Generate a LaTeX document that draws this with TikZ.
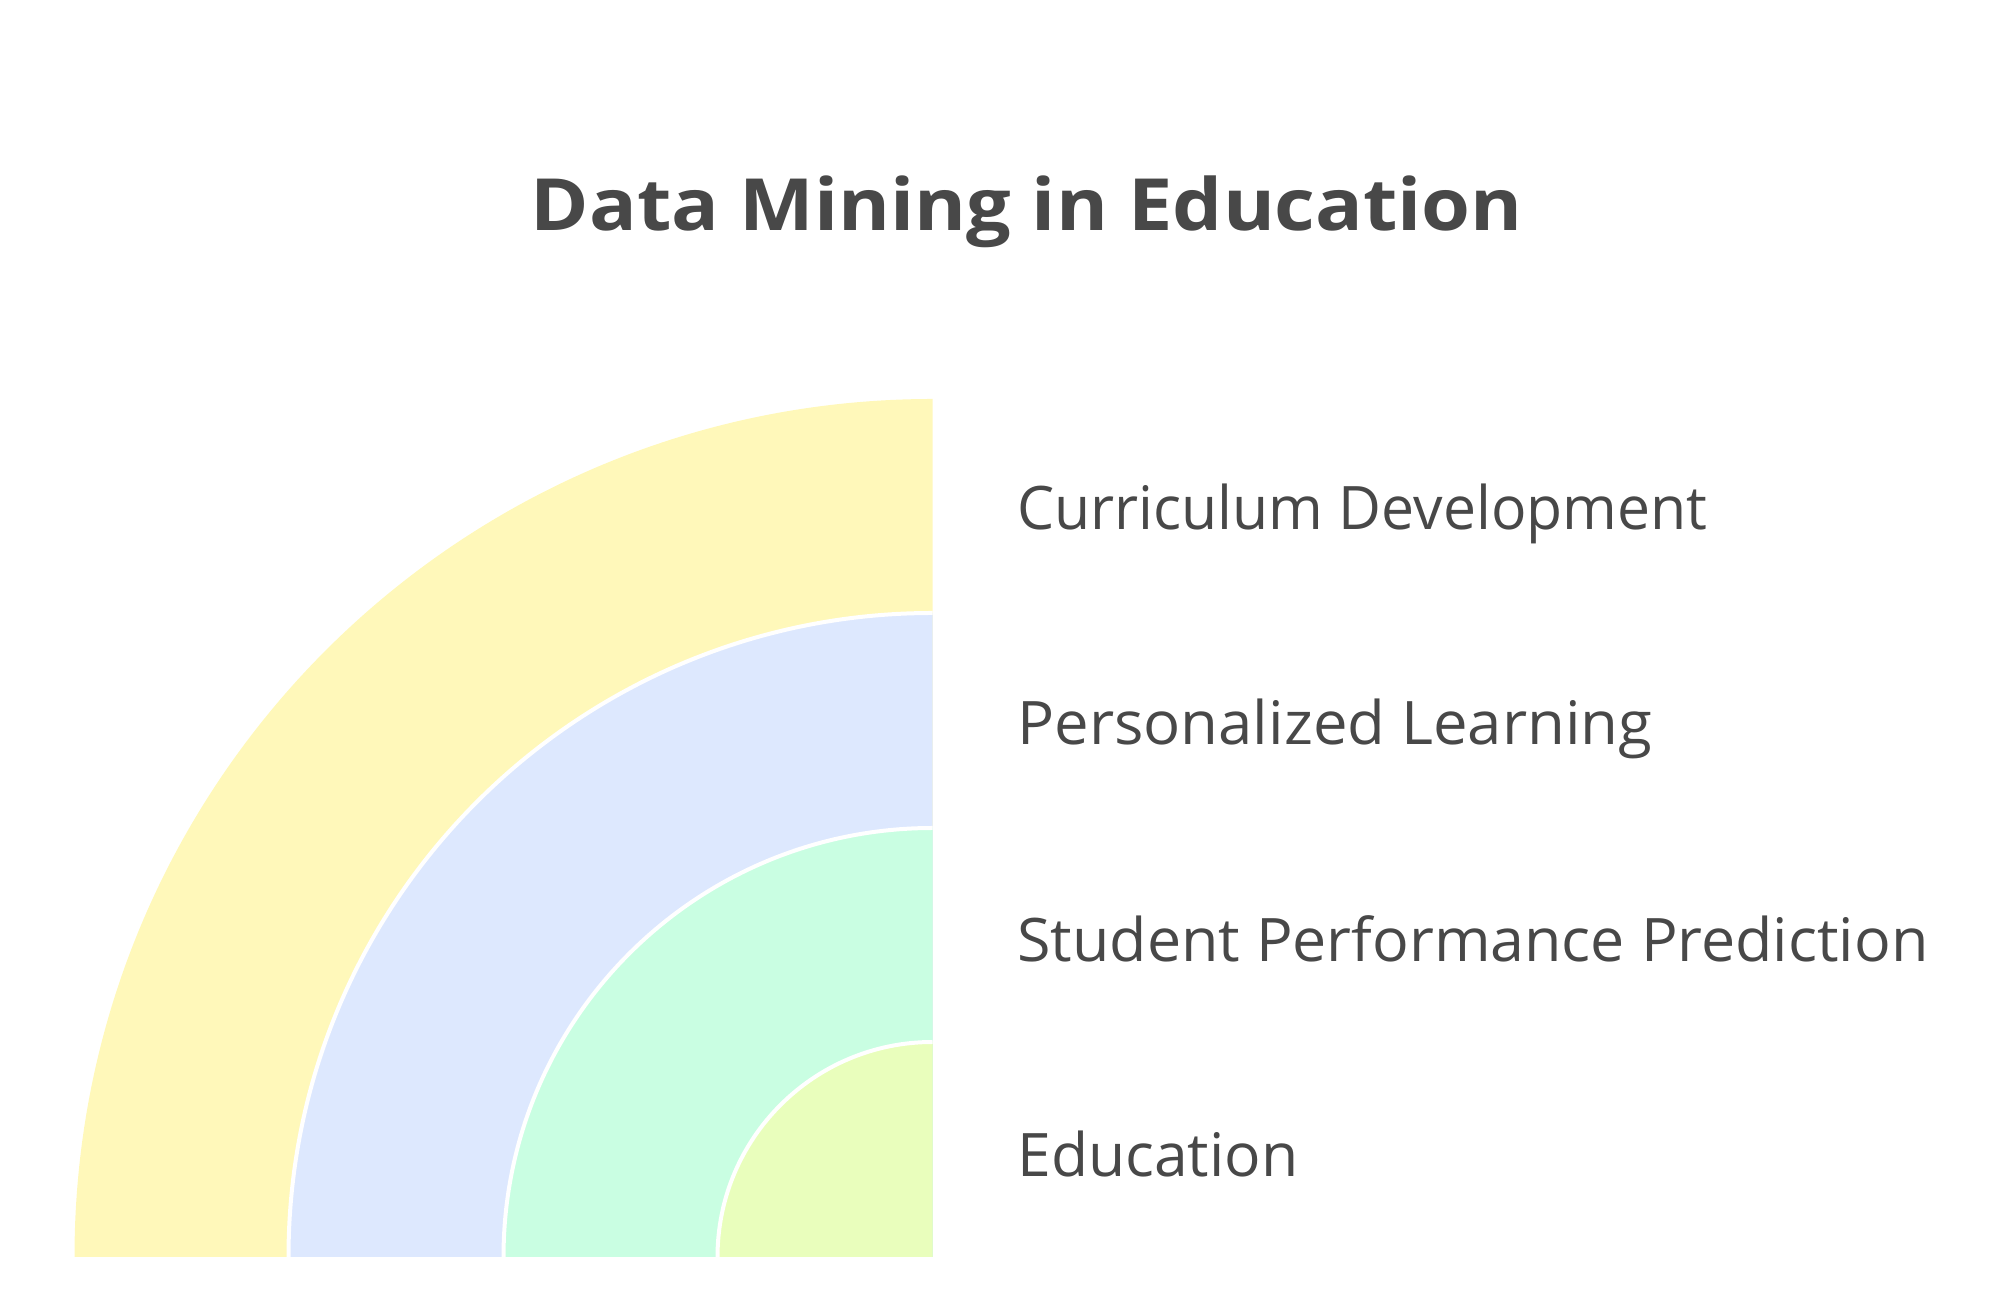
\documentclass[tikz,border=0pt]{standalone}
\usepackage{fontspec}
\setmainfont{Open Sans}
\usepackage{graphicx}
\definecolor{txt}{HTML}{484848}
\definecolor{ringA}{HTML}{FFF8BA}
\definecolor{ringB}{HTML}{DDE8FE}
\definecolor{ringC}{HTML}{C9FEE2}
\definecolor{ringD}{HTML}{E9FEBC}
\tikzset{
  sep/.style={draw=white,line width=2pt},
  lbl/.style={anchor=base west,inner sep=0pt,text=txt,font=\fontsize{30}{34}\selectfont},
  ttl/.style={anchor=base,inner sep=0pt,text=txt,font=\fontsize{36}{40}\selectfont\bfseries}
}
\begin{document}
\begin{tikzpicture}[x=0.5pt,y=0.5pt]
\useasboundingbox (0,0) rectangle (2016,1299);
\coordinate (c) at (932.5,42);
\fill[ringA] (c) -- ++(-858,0) arc[start angle=180,end angle=90,radius=858] -- cycle;
\fill[ringB] (c) -- ++(-644,0) arc[start angle=180,end angle=90,radius=644] -- cycle;
\fill[ringC] (c) -- ++(-429,0) arc[start angle=180,end angle=90,radius=429] -- cycle;
\fill[ringD] (c) -- ++(-215,0) arc[start angle=180,end angle=90,radius=215] -- cycle;
\draw[sep] (c) ++(-644,0) arc[start angle=180,end angle=90,radius=644];
\draw[sep] (c) ++(-429,0) arc[start angle=180,end angle=90,radius=429];
\draw[sep] (c) ++(-215,0) arc[start angle=180,end angle=90,radius=215];
\node[ttl] (title) at (1027,1068) {\resizebox{496pt}{\height}{Data Mining in Education}};
\node[lbl] (l1) at (1017,769) {\resizebox{345pt}{\height}{Curriculum Development}};
\node[lbl] (l2) at (1017,554) {\resizebox{317.5pt}{\height}{Personalized Learning}};
\node[lbl] (l3) at (1017,337) {\resizebox{455.5pt}{\height}{Student Performance Prediction}};
\node[lbl] (l4) at (1017,122) {\resizebox{140.5pt}{\height}{Education}};
\end{tikzpicture}
\end{document}
